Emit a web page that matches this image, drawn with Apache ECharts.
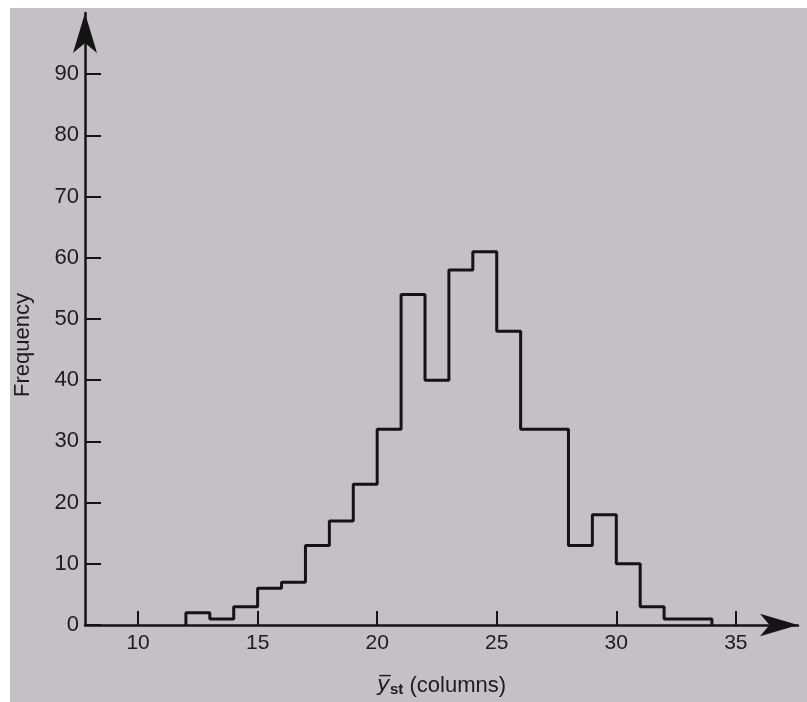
<!DOCTYPE html>
<html>
<head>
<meta charset="utf-8">
<script src="https://cdn.jsdelivr.net/npm/echarts@6/dist/echarts.min.js"></script>
<style>
  html, body { margin: 0; padding: 0; background: #ffffff; }
  #paper { position: absolute; left: 10px; top: 8px; width: 797px; height: 694px; background: #c3c1c4; }
  #chart { position: absolute; left: 0; top: 0; width: 807px; height: 702px; }
</style>
</head>
<body>
<div id="paper"></div>
<div id="chart"></div>
<script>
// ---- data ----
const binStart = 12;          // left edge of the first class
const binWidth = 1;           // class width
const frequencies = [2, 1, 3, 6, 7, 13, 17, 23, 32, 54, 40, 58, 61, 48, 32, 32, 13, 18, 10, 3, 1, 1];
const xTickValues = [10, 15, 20, 25, 30, 35];
const yTickValues = [0, 10, 20, 30, 40, 50, 60, 70, 80, 90];
const yTitle = 'Frequency';

// outline of the histogram (step line built from the class counts)
const outline = [[binStart, 0]];
frequencies.forEach((f, i) => outline.push([binStart + i * binWidth, f]));
outline.push([binStart + frequencies.length * binWidth, 0]);

const ink = '#141414';
const font = '"Liberation Sans", Arial, sans-serif';

const chart = echarts.init(document.getElementById('chart'), null, { renderer: 'canvas' });
chart.setOption({
  backgroundColor: 'transparent',
  animation: false,
  grid: { left: 85, right: 9, top: 13, bottom: 77, containLabel: false },
  xAxis: {
    type: 'value',
    min: 7.78,
    max: 37.6,
    splitLine: { show: false },
    axisLine: { show: true, onZero: false, lineStyle: { color: ink, width: 2.5 }, symbol: ['none', 'arrow'], symbolSize: [17, 38] },
    axisTick: { show: true, inside: true, length: 14, lineStyle: { color: ink, width: 2 }, customValues: xTickValues },
    axisLabel: { show: true, color: '#1c1c1c', fontFamily: font, fontSize: 21, margin: 8, customValues: xTickValues },
    name: '{y|y\u0305}{sub|st} (columns)',
    nameLocation: 'middle',
    nameGap: 49,
    nameTextStyle: {
      color: '#1c1c1c', fontFamily: font, fontSize: 22,
      rich: {
        y: { fontFamily: '"DejaVu Sans", sans-serif', fontStyle: 'italic', fontSize: 22, color: '#1c1c1c' },
        sub: { fontFamily: font, fontSize: 15, fontWeight: 'bold', color: '#1c1c1c', verticalAlign: 'bottom', padding: [8, 0, 0, 0] }
      }
    }
  },
  yAxis: {
    type: 'value',
    min: 0,
    max: 100,
    splitLine: { show: false },
    axisLine: { show: true, onZero: false, lineStyle: { color: ink, width: 2.5 }, symbol: ['none', 'arrow'], symbolSize: [18, 40] },
    axisTick: { show: true, inside: true, length: 16, lineStyle: { color: ink, width: 2 }, customValues: yTickValues },
    axisLabel: { show: true, color: '#1c1c1c', fontFamily: font, fontSize: 22, margin: 6, customValues: yTickValues }
  },
  graphic: [{
    type: 'text',
    x: 23, y: 345,
    rotation: Math.PI / 2,
    style: { text: yTitle, fill: '#1c1c1c', font: '22px ' + font, textAlign: 'center', textVerticalAlign: 'middle' }
  }],
  series: [{
    type: 'line',
    step: 'end',
    data: outline,
    symbol: 'none',
    lineStyle: { color: ink, width: 3 },
    z: 3
  }]
});
</script>
</body>
</html>
